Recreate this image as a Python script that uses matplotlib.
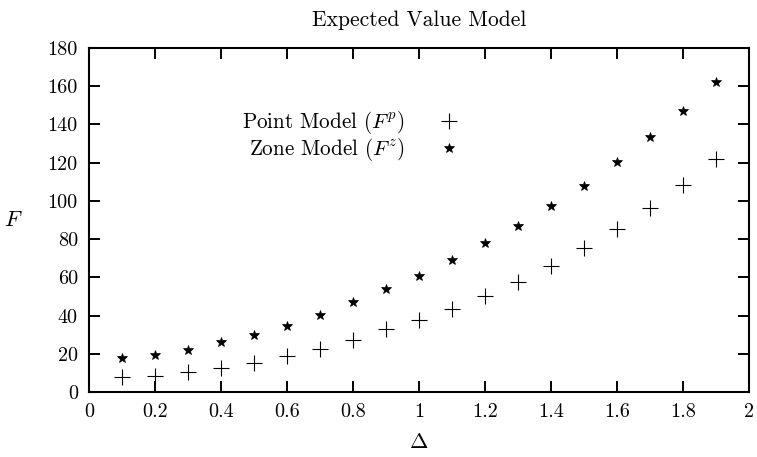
import matplotlib
matplotlib.use("Agg")
import matplotlib.pyplot as plt

plt.rcParams['font.family'] = 'serif'
plt.rcParams['font.serif'] = ['cmr10']
plt.rcParams['mathtext.fontset'] = 'cm'
plt.rcParams['axes.formatter.use_mathtext'] = True

delta = [0.1, 0.2, 0.3, 0.4, 0.5, 0.6, 0.7, 0.8, 0.9, 1.0,
         1.1, 1.2, 1.3, 1.4, 1.5, 1.6, 1.7, 1.8, 1.9]
point_model = [7.8, 8.4, 10.5, 12.6, 15.2, 18.8, 22.5, 27.2, 33.0, 37.7,
               43.4, 50.2, 57.6, 65.9, 75.4, 85.3, 96.3, 108.3, 121.9]
zone_model = [17.8, 19.4, 22.0, 26.2, 29.8, 34.5, 40.3, 47.1, 53.9, 60.7,
              69.0, 78.0, 86.9, 97.3, 107.8, 120.4, 133.4, 147.0, 162.2]
xticks = [0, 0.2, 0.4, 0.6, 0.8, 1, 1.2, 1.4, 1.6, 1.8, 2]
xticklabels = ['0', '0.2', '0.4', '0.6', '0.8', '1', '1.2', '1.4', '1.6', '1.8', '2']
yticks = [0, 20, 40, 60, 80, 100, 120, 140, 160, 180]

fig = plt.figure(figsize=(7.57, 4.57), dpi=100)
ax = fig.add_axes([89/757, 65/457, 660/757, 344/457])

fs = 14.5
ax.plot(delta, point_model, linestyle='none', marker='+', markersize=11,
        markeredgewidth=0.8, color='black', label=r'Point Model $(F^p)$')
ax.plot(delta, zone_model, linestyle='none', marker='*', markersize=7.5,
        markeredgewidth=0.5, color='black', label=r'Zone Model $(F^z)$')

ax.set_xlim(0, 2)
ax.set_ylim(0, 180)
ax.set_xticks(xticks)
ax.set_xticklabels(xticklabels)
ax.set_yticks(yticks)
ax.set_yticklabels([str(v) for v in yticks])
ax.tick_params(direction='in', length=8, width=1.4, top=True, right=True,
               labelsize=fs, pad=8)
for s in ax.spines.values():
    s.set_linewidth(1.5)

ax.set_title('Expected Value Model', fontsize=15.5, pad=16)
ax.set_xlabel(r'$\Delta$', fontsize=fs + 1.5, labelpad=8)
ax.set_ylabel(r'$F$', fontsize=fs + 1.5, rotation=0, va='center', ha='center')
ax.yaxis.set_label_coords(-0.114, 0.5)

leg = ax.legend(loc='center', bbox_to_anchor=(356/757, 1 - 136/457),
                bbox_transform=fig.transFigure, frameon=False, markerfirst=False,
                fontsize=15.2, handlelength=2.0, labelspacing=0.0,
                handletextpad=1.1, borderpad=0.2)

fig.savefig('out.png', dpi=100)
